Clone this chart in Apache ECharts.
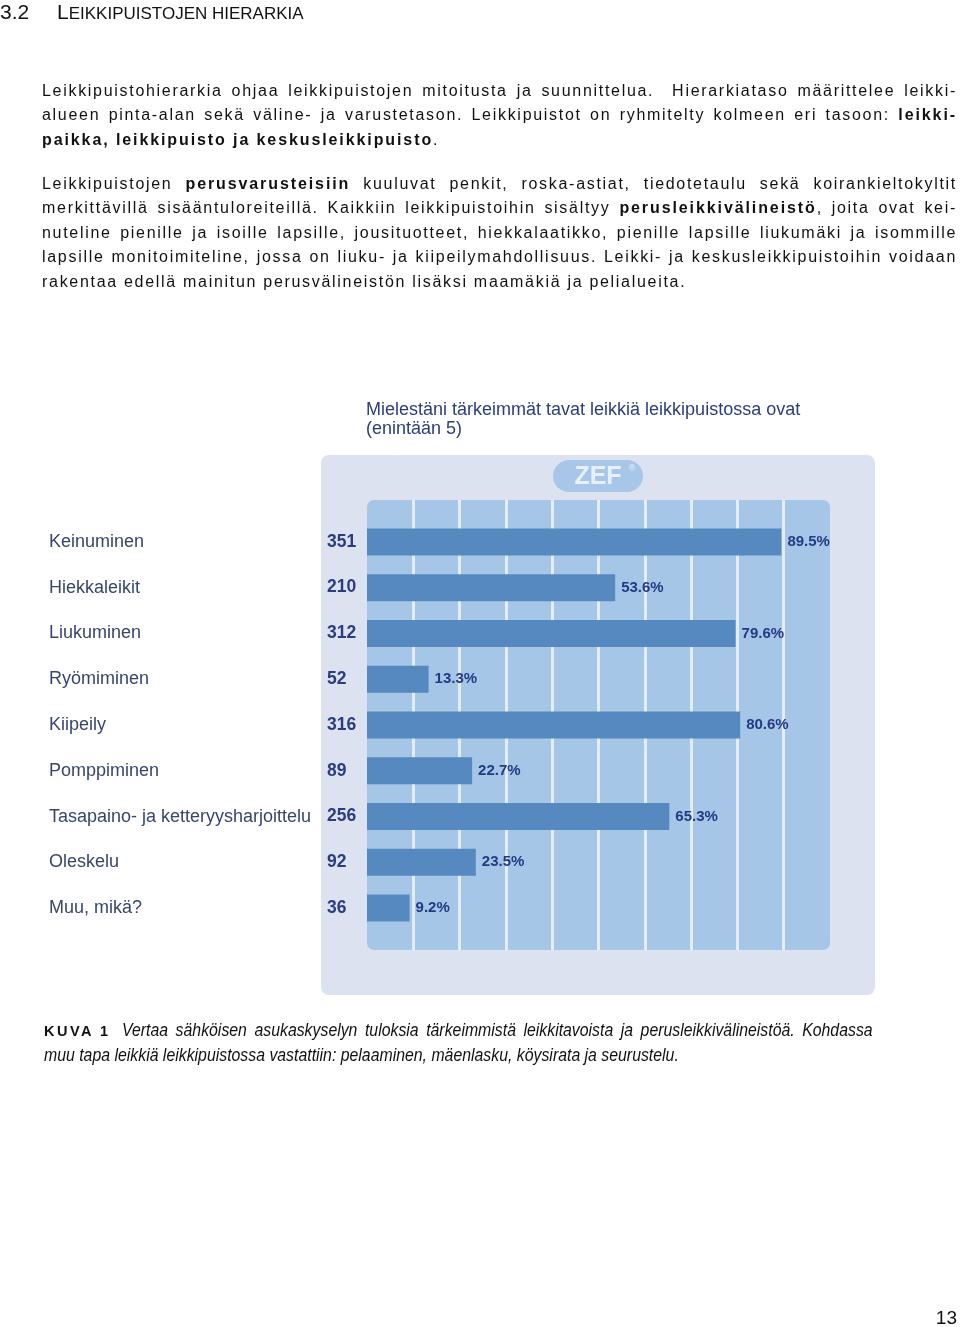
<!DOCTYPE html>
<html>
<head>
<meta charset="utf-8">
<script src="https://cdn.jsdelivr.net/npm/echarts/dist/echarts.min.js"></script>
<style>
  html, body { margin: 0; padding: 0; background: #fff; }
  body { width: 960px; height: 1327px; position: relative; overflow: hidden; }
  #chart { position: absolute; left: 0; top: 0; width: 960px; height: 1327px; }
  .txt { position: absolute; z-index: 2; color: #111; font-family: "Liberation Sans", Arial, sans-serif; }
  .para { left: 42px; width: 915px; font-size: 16px; letter-spacing: 1.7px; }
  .para div { height: 24.4px; line-height: 24.4px; text-align: justify; text-align-last: justify; }
  .para div.last { text-align: left; text-align-last: left; }
  .para b { letter-spacing: 1.9px; }
  .capi { font-size: 18px; line-height: 25px; height: 25px; font-style: italic; white-space: nowrap;
          transform: scaleX(0.88); transform-origin: 0 0; }
  .capi.just { width: 853px; text-align: justify; text-align-last: justify; white-space: normal; }
  .capk { font-size: 14.5px; line-height: 25px; font-weight: bold; letter-spacing: 2.5px; }
</style>
</head>
<body>
<div id="chart"></div>

<div class="txt" style="left:0;top:1px;font-size:21px;line-height:21px;">3.2</div>
<div class="txt" style="left:57px;top:1px;font-size:21px;line-height:21px;">L<span style="font-size:17px;">EIKKIPUISTOJEN HIERARKIA</span></div>

<div class="txt para" style="top:79px;">
  <div>Leikkipuistohierarkia ohjaa leikkipuistojen mitoitusta ja suunnittelua.&nbsp; Hierarkiataso määrittelee leikki-</div>
  <div>alueen pinta-alan sekä väline- ja varustetason. Leikkipuistot on ryhmitelty kolmeen eri tasoon: <b>leikki-</b></div>
  <div class="last"><b>paikka, leikkipuisto ja keskusleikkipuisto</b>.</div>
</div>

<div class="txt para" style="top:172px;">
  <div>Leikkipuistojen <b>perusvarusteisiin</b> kuuluvat penkit, roska-astiat, tiedotetaulu sekä koirankieltokyltit</div>
  <div>merkittävillä sisääntuloreiteillä. Kaikkiin leikkipuistoihin sisältyy <b>perusleikkivälineistö</b>, joita ovat kei-</div>
  <div>nuteline pienille ja isoille lapsille, jousituotteet, hiekkalaatikko, pienille lapsille liukumäki ja isommille</div>
  <div>lapsille monitoimiteline, jossa on liuku- ja kiipeilymahdollisuus. Leikki- ja keskusleikkipuistoihin voidaan</div>
  <div class="last">rakentaa edellä mainitun perusvälineistön lisäksi maamäkiä ja pelialueita.</div>
</div>

<div class="txt capk" style="left:44px;top:1019px;">KUVA 1</div>
<div class="txt capi just" style="left:122px;top:1018px;">Vertaa sähköisen asukaskyselyn tuloksia tärkeimmistä leikkitavoista ja perusleikkivälineistöä. Kohdassa</div>
<div class="txt capi" style="left:44px;top:1043px;">muu tapa leikkiä leikkipuistossa vastattiin: pelaaminen, mäenlasku, köysirata ja seurustelu.</div>

<div class="txt" style="left:900px;width:57px;text-align:right;top:1308px;font-size:19px;line-height:19px;">13</div>

<script>
// ---- data ----
const categories = [
  'Keinuminen',
  'Hiekkaleikit',
  'Liukuminen',
  'Ryömiminen',
  'Kiipeily',
  'Pomppiminen',
  'Tasapaino- ja ketteryysharjoittelu',
  'Oleskelu',
  'Muu, mikä?'
];
const counts   = [351, 210, 312, 52, 316, 89, 256, 92, 36];
const percents = [89.5, 53.6, 79.6, 13.3, 80.6, 22.7, 65.3, 23.5, 9.2];
const axisMin = 0, axisMax = 100, axisStep = 10;
const chartTitle = 'Mielestäni tärkeimmät tavat leikkiä leikkipuistossa ovat\n(enintään 5)';

const FONT = '"Liberation Sans", Arial, sans-serif';
const navy = '#2b3d80';

const chart = echarts.init(document.getElementById('chart'), null, { renderer: 'canvas' });
chart.setOption({
  animation: false,
  backgroundColor: '#ffffff',
  title: {
    text: chartTitle,
    left: 366, top: 401, padding: 0,
    textStyle: { fontFamily: FONT, fontSize: 18, fontWeight: 'normal', color: navy, lineHeight: 18.5 }
  },
  graphic: [
    { type: 'rect', z: -20, shape: { x: 321, y: 455, width: 554, height: 540, r: 8 }, style: { fill: '#dce2f0' } },
    { type: 'rect', z: -19, shape: { x: 553, y: 460, width: 90, height: 32, r: 16 }, style: { fill: '#a8c7e8' } },
    { type: 'text', z: -18, x: 598, y: 477, style: { text: 'ZEF', fill: '#e8f0fa', font: 'bold 25px ' + FONT, textAlign: 'center', textVerticalAlign: 'middle' } },
    { type: 'text', z: -18, x: 632, y: 469, style: { text: '®', fill: '#e8f0fa', font: '9px ' + FONT, textAlign: 'center', textVerticalAlign: 'middle' } },
    { type: 'rect', z: -19, shape: { x: 367, y: 500, width: 463, height: 450, r: 7 }, style: { fill: '#a5c6e7' } }
  ],
  grid: [
    { left: 367, top: 500, width: 463, height: 450 },
    { left: 367, top: 519, width: 463, height: 412 }
  ],
  xAxis: [
    {
      gridIndex: 0, type: 'value', min: axisMin, max: axisMax, interval: axisStep,
      axisLine: { show: false }, axisTick: { show: false }, axisLabel: { show: false },
      splitLine: { show: true, showMinLine: false, showMaxLine: false, lineStyle: { color: '#e4ecf7', width: 3 } }
    },
    { gridIndex: 1, type: 'value', min: axisMin, max: axisMax, show: false }
  ],
  yAxis: [
    { gridIndex: 0, type: 'category', data: [''], show: false },
    {
      gridIndex: 1, type: 'category', data: categories, inverse: true,
      axisLine: { show: false }, axisTick: { show: false }, splitLine: { show: false },
      axisLabel: {
        margin: 318, align: 'left',
        formatter: (v, i) => '{n|' + v + '}{c|' + counts[i] + '}',
        rich: {
          n: { width: 278, fontFamily: FONT, fontSize: 18, color: '#37466e' },
          c: { fontFamily: FONT, fontSize: 17.5, fontWeight: 'bold', color: navy }
        }
      }
    }
  ],
  series: [{
    type: 'bar', xAxisIndex: 1, yAxisIndex: 1,
    data: percents,
    barWidth: 27,
    itemStyle: { color: '#5589bf' },
    label: {
      show: true, position: 'right', distance: 6,
      formatter: p => p.value.toFixed(1) + '%',
      fontFamily: FONT, fontSize: 15, fontWeight: 'bold', color: '#233a85'
    }
  }]
});
</script>
</body>
</html>
